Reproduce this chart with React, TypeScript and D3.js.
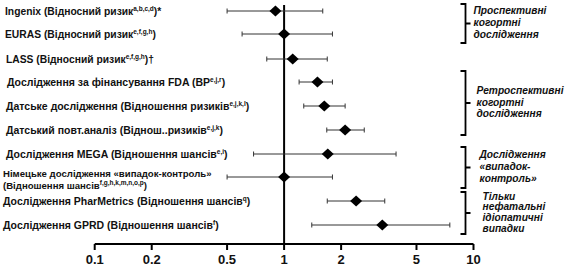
import React from "react";
import * as d3 from "d3";

type Lbl = { text: string; sup: string; tail: string };

const labelLines: Lbl[][] = [
  [{ text: "Ingenix (Відносний ризик", sup: "a,b,c,d", tail: ")*" }],
  [{ text: "EURAS (Відносний ризик", sup: "e,f,g,h", tail: ")" }],
  [{ text: "LASS (Відносний ризик", sup: "e,f,g,h", tail: ")†" }],
  [{ text: "Дослідження за фінансування FDA (ВР", sup: "e,j,r", tail: ")" }],
  [{ text: "Датське дослідження (Відношення ризиків", sup: "e,j,k,l", tail: ")" }],
  [{ text: "Датський повт.аналіз (Віднош..ризиків", sup: "e,j,k", tail: ")" }],
  [{ text: "Дослідження MEGA (Відношення шансів", sup: "e,i", tail: ")" }],
  [
    { text: "Німецьке дослідження «випадок-контроль»", sup: "", tail: "" },
    { text: "(Відношення шансів", sup: "f,g,h,k,m,n,o,p", tail: ")" },
  ],
  [{ text: "Дослідження PharMetrics (Відношення шансів", sup: "q", tail: ")" }],
  [{ text: "Дослідження GPRD (Відношення шансів", sup: "f", tail: ")" }],
];

const estimates = [0.9, 1.0, 1.11, 1.5, 1.63, 2.1, 1.7, 1.0, 2.4, 3.3];
const lowerCI = [0.5, 0.6, 0.81, 1.2, 1.27, 1.68, 0.69, 0.5, 1.69, 1.4];
const upperCI = [1.6, 1.8, 1.69, 1.8, 2.1, 2.65, 3.9, 1.8, 3.4, 7.5];
const rowY = [11, 34, 59, 82, 106, 130, 154, 177, 201, 225];
const labelX = [5, 5, 6, 7, 6, 6, 6, 3, 3, 3];
const labelSize = [10.3, 10.3, 10.3, 10.5, 10.5, 10.5, 10.5, 9.6, 10.5, 10.5];

const tickValues = [0.1, 0.2, 0.5, 1, 2, 5, 10];

const groupLabels = [
  ["Проспективні", "когортні", "дослідження"],
  ["Ретроспективні", "когортні", "дослідження"],
  ["Дослідження", "«випадок-", "контроль»"],
  ["Тільки", "нефатальні", "ідіопатичні", "випадки"],
];
const groupTop = [4, 71, 147, 192];
const groupBottom = [43, 135, 188, 234];

export default function App() {
  const W = 565;
  const H = 268;
  const x = d3.scaleLog().domain([0.1, 10]).range([94.7, 473.5]);
  const axisY = 244;
  const font = "'Liberation Sans', Arial, sans-serif";
  const diamond = (cx: number, cy: number) => {
    const p = d3.path();
    p.moveTo(cx - 6, cy);
    p.lineTo(cx, cy - 5.5);
    p.lineTo(cx + 6, cy);
    p.lineTo(cx, cy + 5.5);
    p.closePath();
    return p.toString();
  };
  return (
    <svg
      width={W}
      height={H}
      style={{ position: "absolute", left: 0, top: 0, background: "#fff" }}
      fontFamily={font}
    >
      {/* labels */}
      {labelLines.map((lines, i) =>
        lines.map((l, j) => {
          const y = lines.length === 1 ? rowY[i] : rowY[i] - 3 + j * 11.5;
          return (
            <text
              key={`${i}-${j}`}
              x={labelX[i]}
              y={y}
              dy="0.35em"
              fontSize={labelSize[i]}
              fontWeight="bold"
              fill="#111"
            >
              {l.text}
              {l.sup && (
                <tspan fontSize={6.5} dy={-3.5}>
                  {l.sup}
                </tspan>
              )}
              {l.tail && <tspan dy={l.sup ? 3.5 : 0}>{l.tail}</tspan>}
            </text>
          );
        })
      )}

      {/* reference line */}
      <line x1={x(1)} x2={x(1)} y1={5} y2={axisY} stroke="#000" strokeWidth={2} />

      {/* axis */}
      <line x1={x(0.1)} x2={x(10)} y1={axisY} y2={axisY} stroke="#000" strokeWidth={2} />
      {tickValues.map((t) => (
        <g key={t}>
          <line x1={x(t)} x2={x(t)} y1={axisY} y2={axisY + 6} stroke="#000" strokeWidth={2} />
          <text
            x={x(t)}
            y={axisY + 15}
            textAnchor="middle"
            dy="0.35em"
            fontSize={13}
            fontWeight="bold"
            fill="#111"
          >
            {t}
          </text>
        </g>
      ))}

      {/* error bars */}
      {estimates.map((e, i) => (
        <g key={i}>
          <line x1={x(lowerCI[i])} x2={x(upperCI[i])} y1={rowY[i]} y2={rowY[i]} stroke="#333" strokeWidth={1} />
          <line x1={x(lowerCI[i])} x2={x(lowerCI[i])} y1={rowY[i] - 2.5} y2={rowY[i] + 2.5} stroke="#333" strokeWidth={1} />
          <line x1={x(upperCI[i])} x2={x(upperCI[i])} y1={rowY[i] - 2.5} y2={rowY[i] + 2.5} stroke="#333" strokeWidth={1} />
          <path d={diamond(x(e), rowY[i])} fill="#000" />
        </g>
      ))}

      {/* group brackets */}
      {groupLabels.map((g, i) => {
        const top = groupTop[i];
        const bot = groupBottom[i];
        const mid = (top + bot) / 2;
        const bx = 465.5;
        const n = g.length;
        const lh = n === 4 ? 10.7 : 11.8;
        const y0 = mid - ((n - 1) * lh) / 2 - 1;
        return (
          <g key={i}>
            <path
              d={`M${bx - 5},${top} H${bx} V${bot} H${bx - 5} M${bx},${mid} H${bx + 5}`}
              fill="none"
              stroke="#000"
              strokeWidth={1.8}
            />
            {g.map((s, j) => (
              <text
                key={j}
                x={bx + 8 + i * 3}
                y={y0 + j * lh}
                dy="0.35em"
                fontSize={10.2}
                fontWeight="bold"
                fontStyle="italic"
                fill="#111"
              >
                {s}
              </text>
            ))}
          </g>
        );
      })}
    </svg>
  );
}
